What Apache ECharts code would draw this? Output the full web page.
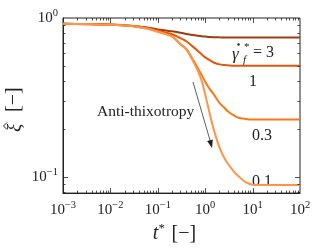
<!DOCTYPE html>
<html><head><meta charset="utf-8">
<script src="https://cdn.jsdelivr.net/npm/echarts@6/dist/echarts.min.js"></script>
<style>html,body{margin:0;padding:0;background:#fff}#c{width:332px;height:249px}</style>
</head><body><div id="c"></div>
<script>
// time grid (t*)
const times = [0.001, 0.003, 0.01, 0.03, 0.06, 0.1, 0.15, 0.2, 0.3, 0.4, 0.55, 0.7, 0.85, 1, 1.25, 1.5, 2, 2.5, 3, 4, 5, 7, 10, 20, 100];
// structure parameter xi-hat for each final shear rate
const xiGamma3  = [0.919, 0.916, 0.91, 0.892, 0.872, 0.847, 0.833, 0.824, 0.808, 0.793, 0.781, 0.772, 0.767, 0.764, 0.759, 0.757, 0.755, 0.754, 0.753, 0.753, 0.753, 0.753, 0.753, 0.753, 0.753];
const xiGamma1  = [0.919, 0.915, 0.908, 0.89, 0.865, 0.834, 0.809, 0.79, 0.747, 0.714, 0.66, 0.62, 0.588, 0.565, 0.542, 0.524, 0.51, 0.505, 0.503, 0.50, 0.50, 0.50, 0.50, 0.50, 0.50];
const xiGamma03 = [0.919, 0.914, 0.906, 0.888, 0.858, 0.822, 0.793, 0.767, 0.686, 0.638, 0.547, 0.483, 0.435, 0.397, 0.356, 0.331, 0.292, 0.273, 0.258, 0.243, 0.235, 0.231, 0.229, 0.229, 0.229];
const xiGamma01 = [0.919, 0.914, 0.906, 0.887, 0.856, 0.82, 0.79, 0.764, 0.684, 0.635, 0.538, 0.465, 0.399, 0.33, 0.248, 0.20, 0.153, 0.132, 0.121, 0.108, 0.101, 0.0925, 0.0889, 0.0885, 0.0885];
const seriesNames = ['3', '1', '0.3', '0.1'];
const seriesColors = ['#a03c0e', '#e2570c', '#f8781c', '#fd9446'];
// axis ticks
const xMajor = [0.001, 0.01, 0.1, 1, 10, 100];
const yMajor = [0.1, 1];
const minorMult = [2, 3, 4, 5, 6, 7, 8, 9];
const xRange = [0.001, 100];
const yRange = [0.0787, 1];

const xMinor = [];
xMajor.slice(0, -1).forEach(d => minorMult.forEach(m => xMinor.push(m * d)));
const yMinor = [];
[0.01, 0.1].forEach(d => minorMult.forEach(m => { const v = m * d; if (v > yRange[0] && v < yRange[1]) yMinor.push(v); }));

const allSeries = [xiGamma3, xiGamma1, xiGamma03, xiGamma01];
const SERIF = 'Liberation Serif';

function supFmt(v) {
  const e = Math.round(Math.log10(v));
  const s = e < 0 ? '\u2212' + (-e) : String(e);
  return '{b|10}{s|' + s + '}';
}
const richLab = {
  b: { fontFamily: SERIF, fontSize: 15, color: '#222' },
  s: { fontFamily: SERIF, fontSize: 10.5, color: '#222', padding: [0, 0, 9, 0] }
};

function tickSeries(values, axisDir, len) {
  return {
    type: 'custom',
    silent: true,
    coordinateSystem: 'cartesian2d',
    data: values.map(v => [v]),
    z: 5,
    renderItem: function (params, api) {
      const cs = params.coordSys;
      const v = api.value(0);
      const children = [];
      const st = { stroke: '#222', lineWidth: 0.8 };
      if (axisDir === 'x') {
        const p = api.coord([v, yRange[1]]);
        const x = Math.round(p[0]) + 0.5;
        children.push({ type: 'line', shape: { x1: x, y1: cs.y + cs.height, x2: x, y2: cs.y + cs.height - len }, style: st });
        children.push({ type: 'line', shape: { x1: x, y1: cs.y, x2: x, y2: cs.y + len }, style: st });
      } else {
        const p = api.coord([xRange[0], v]);
        const y = Math.round(p[1]) + 0.5;
        children.push({ type: 'line', shape: { x1: cs.x, y1: y, x2: cs.x + len, y2: y }, style: st });
        children.push({ type: 'line', shape: { x1: cs.x + cs.width, y1: y, x2: cs.x + cs.width - len, y2: y }, style: st });
      }
      return { type: 'group', children: children };
    }
  };
}

const chart = echarts.init(document.getElementById('c'), null, { renderer: 'canvas' });

const dataSeries = allSeries.map((arr, i) => ({
  type: 'line',
  name: seriesNames[i],
  data: times.map((t, j) => [t, arr[j]]),
  smooth: 0.3,
  showSymbol: false,
  symbol: 'none',
  lineStyle: { color: seriesColors[i], width: 2 },
  z: 3
}));

const option = {
  animation: false,
  backgroundColor: '#fff',
  grid: { left: 63, right: 32, top: 18, bottom: 49, show: true, borderColor: '#222', borderWidth: 1, backgroundColor: 'transparent' },
  xAxis: {
    type: 'log', logBase: 10, min: xRange[0], max: xRange[1],
    axisLine: { show: true, onZero: false, lineStyle: { color: '#222', width: 1 } },
    axisTick: { show: false },
    splitLine: { show: false },
    axisLabel: { formatter: supFmt, rich: richLab, margin: 7 },
    name: '{i|t}{s|*}  {n|[\u2212]}',
    nameLocation: 'middle', nameGap: 24,
    nameTextStyle: {
      padding: [0, 14, 0, 0],
      rich: {
        i: { fontFamily: SERIF, fontStyle: 'italic', fontSize: 20, color: '#222' },
        s: { fontFamily: SERIF, fontSize: 13, color: '#222', padding: [0, 0, 10, 0] },
        n: { fontFamily: SERIF, fontSize: 20, color: '#222' }
      }
    }
  },
  yAxis: {
    type: 'log', logBase: 10, min: yRange[0], max: yRange[1],
    axisLine: { show: true, onZero: false, lineStyle: { color: '#222', width: 1 } },
    axisTick: { show: false },
    splitLine: { show: false },
    axisLabel: {
      formatter: function (v) {
        const e = Math.log10(v);
        if (Math.abs(e - Math.round(e)) > 1e-6) return '';
        return supFmt(v);
      },
      rich: richLab, margin: 5
    }
  },
  series: dataSeries.concat([
    tickSeries(xMajor.slice(1, -1), 'x', 5),
    tickSeries(xMinor, 'x', 2.5),
    tickSeries(yMajor.slice(0, 1), 'y', 5),
    tickSeries(yMinor, 'y', 2.5)
  ]),
  graphic: [
    { type: 'group', x: 14, y: 111, rotation: Math.PI / 2, children: [
      { type: 'text', x: -21, y: 1, style: { text: '\u03BE', font: 'italic 19px "Liberation Serif"', fill: '#222', verticalAlign: 'middle' } },
      { type: 'text', x: -1, y: 0, style: { text: '[\u2212]', font: '20px "Liberation Serif"', fill: '#222', verticalAlign: 'middle' } }
    ] },
    { type: 'polyline', shape: { points: [[7, 122.5], [3.5, 126], [7, 129.5]] }, style: { stroke: '#222', lineWidth: 1, fill: null } },
    { type: 'text', x: 232, y: 55, style: { text: '\u03B3', font: 'italic 17px "Liberation Serif"', fill: '#222', verticalAlign: 'middle' } },
    { type: 'circle', shape: { cx: 238.5, cy: 44.5, r: 1.2 }, style: { fill: '#222' } },
    { type: 'text', x: 244, y: 47, style: { text: '*', font: '11px "Liberation Serif"', fill: '#222', verticalAlign: 'middle' } },
    { type: 'text', x: 243, y: 60, style: { text: 'f', font: 'italic 11px "Liberation Serif"', fill: '#222', verticalAlign: 'middle' } },
    { type: 'text', x: 253, y: 53, style: { text: '= 3', font: '16px "Liberation Serif"', fill: '#222', verticalAlign: 'middle' } },
    { type: 'text', x: 253, y: 82, style: { text: '1', font: '16px "Liberation Serif"', fill: '#222', align: 'center', verticalAlign: 'middle' } },
    { type: 'text', x: 262, y: 136, style: { text: '0.3', font: '16px "Liberation Serif"', fill: '#222', align: 'center', verticalAlign: 'middle' } },
    { type: 'text', x: 262, y: 182, style: { text: '0.1', font: '16px "Liberation Serif"', fill: '#222', align: 'center', verticalAlign: 'middle' } },
    { type: 'text', x: 97, y: 112, style: { text: 'Anti-thixotropy', font: '15.5px "Liberation Serif"', fill: '#222', verticalAlign: 'middle' } },
    { type: 'line', shape: { x1: 193, y1: 82, x2: 210.5, y2: 142 }, style: { stroke: '#333', lineWidth: 0.8 } },
    { type: 'polygon', shape: { points: [[212, 148], [212.8, 139.5], [207.1, 141.1]] }, style: { fill: '#222' } }
  ]
};
chart.setOption(option);
</script>
</body></html>
